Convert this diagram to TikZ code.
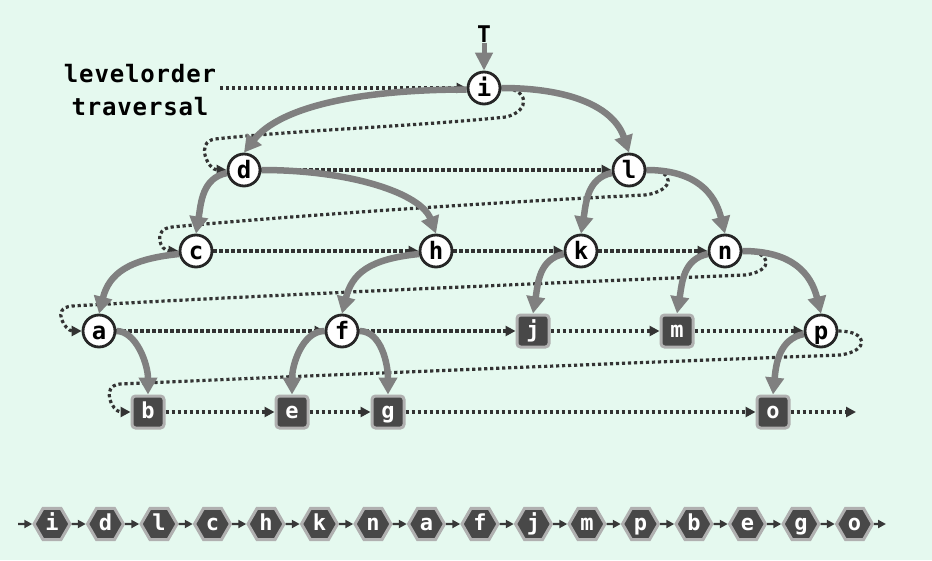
\documentclass[tikz,border=0pt]{standalone}
\usepackage{fontspec}
\setmonofont{DejaVu Sans Mono}
\newfontfamily\lblfont[LetterSpace=3.5]{DejaVu Sans Mono}
\usetikzlibrary{arrows.meta,shapes.geometric}
\definecolor{bgc}{HTML}{E5F9EF}
\definecolor{edgec}{HTML}{808080}
\definecolor{dotc}{HTML}{333333}
\definecolor{leafc}{HTML}{484848}
\definecolor{leafb}{HTML}{B0B0B0}
\pgfdeclarelayer{backlayer}
\pgfdeclarelayer{dotlayer}
\pgfdeclarelayer{edgelayer}
\pgfsetlayers{backlayer,dotlayer,edgelayer,main}
\begin{document}
\begin{tikzpicture}[x=1pt,y=-1pt,
  inner/.style={circle,draw=black!85,line width=2.8pt,fill=white,minimum size=32pt,inner sep=0pt,
    text height=16pt,text depth=0pt,font=\ttfamily\bfseries\fontsize{24}{24}\selectfont},
  leafnode/.style={rectangle,rounded corners=3.5pt,draw=leafb,line width=3pt,fill=leafc,minimum size=32pt,inner sep=0pt,
    text=white,text height=12pt,text depth=0pt,font=\ttfamily\bfseries\fontsize{22}{22}\selectfont},
  hexnode/.style={regular polygon,regular polygon sides=6,minimum size=36pt,draw=leafb,line width=3pt,fill=leafc,inner sep=0pt,
    text=white,text height=13pt,text depth=0pt,font=\ttfamily\bfseries\fontsize{22}{22}\selectfont},
  tree/.style={draw=edgec,line width=6.5pt,-{Triangle[length=17pt,width=18pt]}},
  trav/.style={draw=dotc,line width=3.2pt,dash pattern=on 3.2pt off 2.8pt,-{Triangle[length=10pt,width=10pt]}},
  seq/.style={draw=black!78,line width=2.4pt,-{Triangle[length=8pt,width=8pt]}},
  lbl/.style={font=\lblfont\bfseries\fontsize{24}{24}\selectfont,inner sep=0pt,anchor=base}
]
\useasboundingbox (0,0) rectangle (932,560);
\begin{pgfonlayer}{backlayer}
\fill[bgc] (0,0) rectangle (932,560);
\end{pgfonlayer}

% labels
\node[lbl] (lbl1) at (140,82) {levelorder};
\node[lbl] (lbl2) at (140,115) {traversal};
\node[font=\ttfamily\bfseries\fontsize{23}{23}\selectfont,inner sep=1pt,anchor=base] (T) at (484,42) {T};

% tree nodes
\node[inner] (i) at (484,88) {i};
\node[inner] (d) at (244,170) {d};
\node[inner] (l) at (629,170) {l};
\node[inner] (c) at (196,251) {c};
\node[inner] (h) at (436,251) {h};
\node[inner] (k) at (581,251) {k};
\node[inner] (n) at (725,251) {n};
\node[inner] (a) at (99,331) {a};
\node[inner] (f) at (342,331) {f};
\node[leafnode] (j) at (533,331) {j};
\node[leafnode] (m) at (677,331) {m};
\node[inner] (p) at (821,331) {p};
\node[leafnode] (b) at (148,412) {b};
\node[leafnode] (e) at (292,412) {e};
\node[leafnode] (g) at (388,412) {g};
\node[leafnode] (o) at (773,412) {o};

% traversal (dotted)
\begin{pgfonlayer}{dotlayer}
\coordinate (tstart) at (220,88);
\coordinate (tend) at (856,412);
\draw[trav] (tstart) -- (i);
\draw[trav] (i.east) .. controls +(28,0) and +(25,-6) .. (506,117)
  .. controls (420,126) and (300,130) .. (215,139)
  .. controls (195,142) and (208,170) .. (d.west);
\draw[trav] (d) -- (l);
\draw[trav] (l.east) .. controls +(30,0) and +(30,-4) .. (645,195)
  .. controls (500,202) and (300,215) .. (172,227)
  .. controls (152,229) and (160,251) .. (c.west);
\draw[trav] (c) -- (h);
\draw[trav] (h) -- (k);
\draw[trav] (k) -- (n);
\draw[trav] (n.east) .. controls +(30,0) and +(30,-4) .. (745,275)
  .. controls (500,285) and (250,296) .. (72,306)
  .. controls (50,308) and (66,331) .. (a.west);
\draw[trav] (a) -- (f);
\draw[trav] (f) -- (j);
\draw[trav] (j) -- (m);
\draw[trav] (m) -- (p);
\draw[trav] (p.east) .. controls +(30,0) and +(30,-4) .. (840,355)
  .. controls (600,364) and (350,374) .. (120,384)
  .. controls (100,386) and (112,412) .. (b.west);
\draw[trav] (b) -- (e);
\draw[trav] (e) -- (g);
\draw[trav] (g) -- (o);
\draw[trav] (o) -- (tend);
\end{pgfonlayer}

% tree edges
\begin{pgfonlayer}{edgelayer}
\draw[draw=edgec,line width=5pt,-{Triangle[length=18pt,width=17pt]}] (T) -- (i);
\draw[tree] (i.185) .. controls +(-110,0) and +(35,-45) .. (d.north);
\draw[tree] (i.east) .. controls +(70,0) and +(-15,-45) .. (l.north);
\draw[tree] (d.190) .. controls +(-25,5) and +(5,-30) .. (c.north);
\draw[tree] (d.east) .. controls +(90,0) and +(-15,-40) .. (h.north);
\draw[tree] (l.190) .. controls +(-25,5) and +(5,-30) .. (k.north);
\draw[tree] (l.east) .. controls +(50,0) and +(-10,-40) .. (n.north);
\draw[tree] (c.190) .. controls +(-50,5) and +(10,-40) .. (a.north);
\draw[tree] (h.190) .. controls +(-50,5) and +(10,-40) .. (f.north);
\draw[tree] (k.190) .. controls +(-25,5) and +(5,-30) .. (j.north);
\draw[tree] (n.190) .. controls +(-25,5) and +(5,-30) .. (m.north);
\draw[tree] (n.east) .. controls +(50,0) and +(-10,-40) .. (p.north);
\draw[tree] (a.east) .. controls +(20,0) and +(0,-30) .. (b.north);
\draw[tree] (f.west) .. controls +(-22,0) and +(0,-30) .. (e.north);
\draw[tree] (f.east) .. controls +(22,0) and +(0,-30) .. (g.north);
\draw[tree] (p.190) .. controls +(-25,5) and +(3,-30) .. (o.north);
\end{pgfonlayer}

% sequence
\foreach \l [count=\k from 0] in {i,d,l,c,h,k,n,a,f,j,m,p,b,e,g,o}
  \node[hexnode] (s\k) at ({52+53.5*\k},524) {\l};
\coordinate (sstart) at (18,524);
\coordinate (send) at (886,524);
\draw[seq] (sstart) -- (s0);
\foreach \k [remember=\k as \pk (initially 0)] in {1,...,15}
  \draw[seq] (s\pk) -- (s\k);
\draw[seq] (s15) -- (send);
\end{tikzpicture}
\end{document}
